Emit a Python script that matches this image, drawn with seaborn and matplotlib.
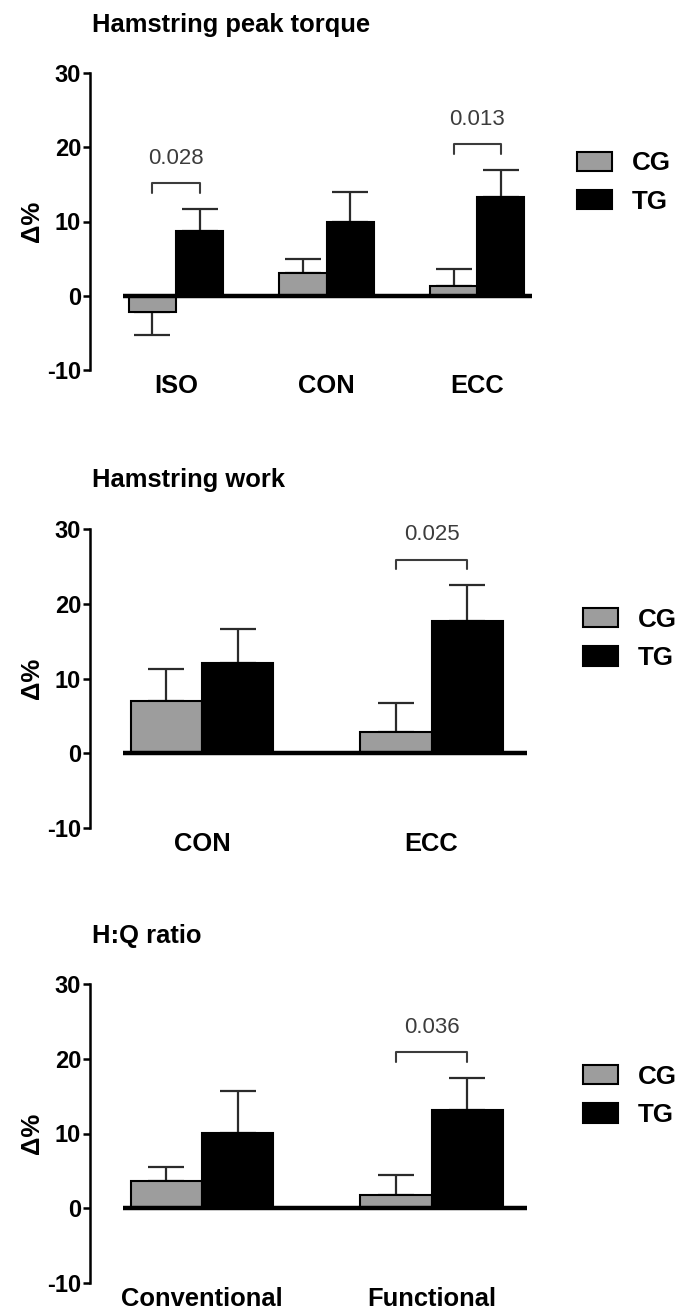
import matplotlib
matplotlib.use("Agg")
import matplotlib.pyplot as plt
import pandas as pd
import seaborn as sns

# ---- data: percentage change (Δ%) per group, one-sided error bars ----
groups = ["CG", "TG"]

torque_tests = ["ISO", "CON", "ECC"]
torque_cg = [-2.15, 3.1, 1.35]
torque_tg = [8.75, 9.9, 13.3]
torque_cg_err = [3.15, 1.9, 2.2]
torque_tg_err = [3.0, 4.1, 3.7]
torque_p = ["0.028", None, "0.013"]

work_tests = ["CON", "ECC"]
work_cg = [7.0, 2.9]
work_tg = [12.05, 17.7]
work_cg_err = [4.25, 3.8]
work_tg_err = [4.6, 4.8]
work_p = [None, "0.025"]

ratio_tests = ["Conventional", "Functional"]
ratio_cg = [3.65, 1.8]
ratio_tg = [10.1, 13.2]
ratio_cg_err = [1.85, 2.65]
ratio_tg_err = [5.65, 4.25]
ratio_p = [None, "0.036"]

# ---- style ----
sns.set_style("white")
plt.rcParams["font.family"] = ["Liberation Sans", "DejaVu Sans"]
plt.rcParams["font.weight"] = "bold"
plt.rcParams["axes.labelweight"] = "bold"
plt.rcParams["axes.unicode_minus"] = False
for key in ("text.color", "axes.labelcolor", "xtick.color", "ytick.color"):
    plt.rcParams[key] = "black"

W, H = 684, 1314
fig = plt.figure(figsize=(W / 100, H / 100), dpi=100)


def rect(left, right, top, bottom):
    return [left / W, 1 - bottom / H, (right - left) / W, (bottom - top) / H]


panels = [
    dict(title="Hamstring peak torque", tests=torque_tests, cg=torque_cg, tg=torque_tg,
         cg_err=torque_cg_err, tg_err=torque_tg_err, p=torque_p,
         box=(123, 532, 73, 370), xlim=(-0.352, 2.365), width=0.625,
         title_y=25, legend_xy=(577, 182.5)),
    dict(title="Hamstring work", tests=work_tests, cg=work_cg, tg=work_tg,
         cg_err=work_cg_err, tg_err=work_tg_err, p=work_p,
         box=(123, 527, 529, 828), xlim=(-0.344, 1.416), width=0.62,
         title_y=480, legend_xy=(583, 639)),
    dict(title="H:Q ratio", tests=ratio_tests, cg=ratio_cg, tg=ratio_tg,
         cg_err=ratio_cg_err, tg_err=ratio_tg_err, p=ratio_p,
         box=(123, 527, 984, 1283), xlim=(-0.344, 1.416), width=0.62,
         title_y=936, legend_xy=(583, 1096)),
]

palette = {"CG": "#9d9d9d", "TG": "#000000"}

for pn in panels:
    ax = fig.add_axes(rect(*pn["box"]))
    n = len(pn["tests"])
    df = pd.DataFrame({
        "test": pn["tests"] * 2,
        "group": ["CG"] * n + ["TG"] * n,
        "change": pn["cg"] + pn["tg"],
    })
    sns.barplot(data=df, x="test", y="change", hue="group", order=pn["tests"],
                hue_order=groups, palette=palette, saturation=1, width=pn["width"],
                edgecolor="black", linewidth=1.5, errorbar=None, ax=ax, zorder=2)

    # one-sided error bars away from zero
    errs = {"CG": pn["cg_err"], "TG": pn["tg_err"]}
    centers = {}
    for cont, g in zip(ax.containers, groups):
        xs = []
        for bar, e in zip(cont, errs[g]):
            x = bar.get_x() + bar.get_width() / 2
            h = bar.get_height()
            xs.append(x)
            yerr = [[0], [e]] if h >= 0 else [[e], [0]]
            ax.errorbar(x, h, yerr=yerr, fmt="none", ecolor="#2b2b2b",
                        elinewidth=1.6, capsize=13, capthick=1.6, zorder=1.5)
        centers[g] = xs

    # significance brackets between CG and TG
    for i, p in enumerate(pn["p"]):
        if p is None:
            continue
        top = max(pn["tg"][i] + pn["tg_err"][i], pn["cg"][i] + pn["cg_err"][i])
        yb = top + 3.4
        x0, x1 = centers["CG"][i], centers["TG"][i]
        ax.plot([x0, x0, x1, x1], [yb - 1.3, yb, yb, yb - 1.3],
                color="#3c3c3c", lw=1.5, zorder=3)
        ax.text((x0 + x1) / 2, yb + 3.3, p, ha="center", va="center",
                fontsize=16, fontweight="normal", color="#3c3c3c")

    ax.axhline(0, color="black", lw=3.2, zorder=3)
    ax.set_xlim(*pn["xlim"])
    ax.set_ylim(-10, 30)
    ax.set_yticks([-10, 0, 10, 20, 30])
    ax.set_xlabel("")
    ax.set_ylabel("Δ%", fontsize=18.5, fontweight="bold", labelpad=2)

    for s in ("top", "right", "bottom"):
        ax.spines[s].set_visible(False)
    ax.spines["left"].set_position(("outward", 24.1))
    ax.spines["left"].set_linewidth(1.8)
    ax.spines["left"].set_color("black")
    ax.tick_params(axis="y", length=5, width=1.8, direction="out", pad=1,
                   labelsize=17, color="black", left=True)
    ax.tick_params(axis="x", length=0, pad=3, labelsize=18.4)
    for lbl in ax.get_xticklabels() + ax.get_yticklabels():
        lbl.set_fontweight("bold")

    fig.text(92 / W, 1 - pn["title_y"] / H, pn["title"], ha="left", va="center",
             fontsize=18.4, fontweight="bold")

    lx, ly = pn["legend_xy"]
    sns.move_legend(ax, loc="center left", bbox_to_anchor=(lx / W, 1 - ly / H),
                    bbox_transform=fig.transFigure, frameon=False, title=None,
                    fontsize=18.7, handlelength=1.36, handleheight=0.76,
                    handletextpad=0.76, labelspacing=0.55, borderpad=0,
                    borderaxespad=0)

fig.savefig("out.png", dpi=100)
